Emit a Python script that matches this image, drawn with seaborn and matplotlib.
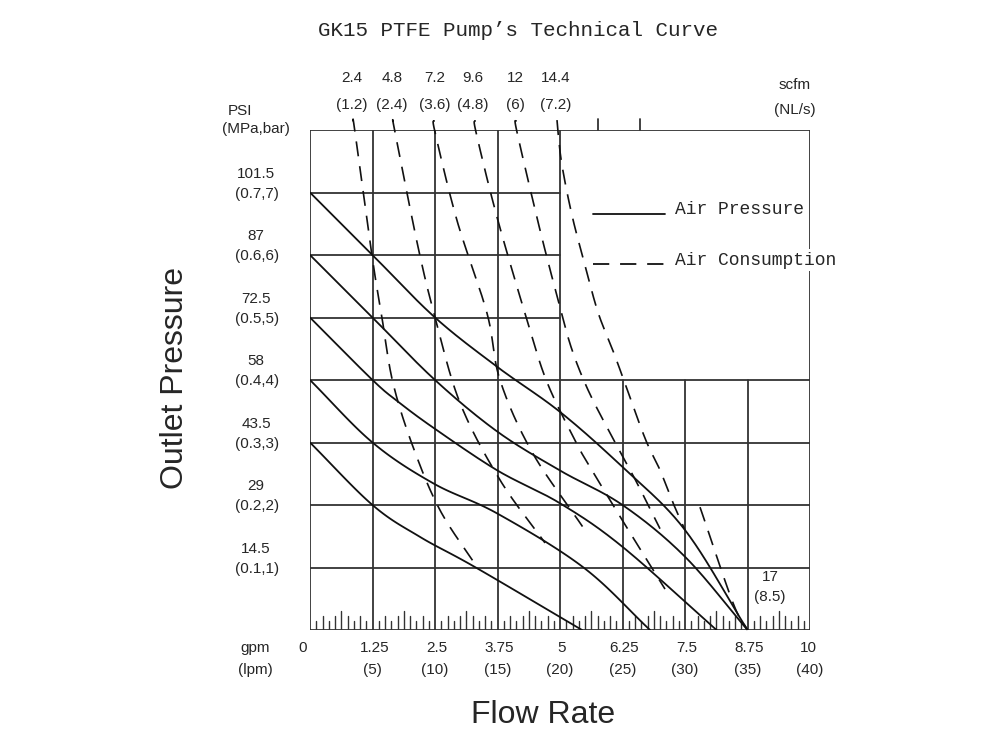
import numpy as np
import pandas as pd
import matplotlib
matplotlib.use("Agg")
import matplotlib.pyplot as plt
import seaborn as sns

# ---------------- data ----------------
# Air-pressure curves (gpm, psi)
c7_gpm = [0, 1.25, 2.5, 3.75, 5.0, 6.25, 7.5, 8.75]
c7_psi = [101.5, 87, 72.5, 61, 50.6, 37.8, 23.2, 0]
c6_gpm = [0, 1.25, 2.5, 3.75, 5.0, 6.25, 7.5, 8.75]
c6_psi = [87, 72.5, 58, 46, 37, 29, 17, 0]
c5_gpm = [0, 1.25, 1.77, 2.47, 3.75, 5.0, 6.25, 8.13]
c5_psi = [72.5, 58, 52.9, 46.9, 37, 29.4, 19.3, 0]
c4_gpm = [0, 1.25, 2.47, 3.75, 5.47, 6.8]
c4_psi = [58, 43.5, 34, 27, 14.5, 0]
c3_gpm = [0, 1.25, 2.2, 3.3, 5.44]
c3_psi = [43.5, 29, 21.6, 14.6, 0]

# Air-consumption curves (gpm, psi)
d1_gpm = [0.86, 0.9, 1.24, 1.44, 1.66, 2.06, 2.6, 3.34]
d1_psi = [118.3, 115.5, 86.8, 72.4, 57.3, 42.5, 27.8, 14.6]
d2_gpm = [1.66, 1.7, 2.16, 2.5, 3.0, 3.8, 4.7]
d2_psi = [118.3, 115.5, 88.9, 72.6, 52.7, 34.8, 20.2]
d3_gpm = [2.48, 2.5, 2.94, 3.54, 3.8, 4.44, 5.45]
d3_psi = [118.3, 115.5, 95, 73.5, 58, 41.3, 24]
d4_gpm = [3.3, 3.32, 3.74, 4.34, 4.74, 5.3, 5.6, 6.34, 7.1]
d4_psi = [118.3, 115.5, 95.8, 71.9, 57.5, 44, 37.8, 23.7, 9.5]
d5_gpm = [4.12, 4.14, 4.6, 5.0, 5.24, 5.56, 6.0, 6.5, 7.0]
d5_psi = [118.3, 115.5, 92.8, 74.9, 65, 55.7, 45.7, 35, 23.5]
d6_gpm = [4.94, 4.96, 5.04, 5.24, 5.5, 5.76, 6.04, 6.26, 6.7, 7.0, 7.26, 7.5]
d6_psi = [118.3, 115.5, 107.8, 96.2, 84.6, 73.7, 65.4, 58.5, 44.5, 37.1, 29.5, 23.2]
d7_gpm = [7.8, 8.46, 8.75]
d7_psi = [28.5, 6.3, 0]

scfm_labels = ["2.4", "4.8", "7.2", "9.6", "12", "14.4"]
nls_labels = ["(1.2)", "(2.4)", "(3.6)", "(4.8)", "(6)", "(7.2)"]
scfm_pos = [0.84, 1.64, 2.5, 3.26, 4.1, 4.92]
psi_ticks = [101.5, 87, 72.5, 58, 43.5, 29, 14.5]
psi_sub = ["(0.7,7)", "(0.6,6)", "(0.5,5)", "(0.4,4)", "(0.3,3)", "(0.2,2)", "(0.1,1)"]
gpm_ticks = [0, 1.25, 2.5, 3.75, 5, 6.25, 7.5, 8.75, 10]
gpm_tick_labels = ["0", "1.25", "2.5", "3.75", "5", "6.25", "7.5", "8.75", "10"]
lpm_tick_labels = ["", "(5)", "(10)", "(15)", "(20)", "(25)", "(30)", "(35)", "(40)"]


def smooth(xs, ys, n=25):
    p = np.column_stack([xs, ys]).astype(float)
    p = np.vstack([2 * p[0] - p[1], p, 2 * p[-1] - p[-2]])
    out = []
    t = np.linspace(0, 1, n)[:, None]
    for i in range(1, len(p) - 2):
        p0, p1, p2, p3 = p[i - 1], p[i], p[i + 1], p[i + 2]
        seg = 0.5 * ((2 * p1) + (-p0 + p2) * t + (2 * p0 - 5 * p1 + 4 * p2 - p3) * t ** 2
                     + (-p0 + 3 * p1 - 3 * p2 + p3) * t ** 3)
        out.append(seg if i == 1 else seg[1:])
    s = np.vstack(out)
    return pd.DataFrame({"gpm": s[:, 0], "psi": s[:, 1], "order": np.arange(len(s))})


sns.set_style("white")
plt.rcParams["font.family"] = ["Liberation Sans", "DejaVu Sans"]

fig = plt.figure(figsize=(10, 7.5), dpi=100)
ax = fig.add_axes([0.31, 0.16, 0.5, 500 / 750])
ax.set_xlim(0, 10)
ax.set_ylim(0, 116)
ax.axis("off")

grid_kw = dict(color="#333333", lw=1.3, zorder=1)
YT = 116
# frame and grid
ax.plot([0, 10], [YT, YT], **grid_kw)
ax.plot([0, 0], [0, YT], **grid_kw)
ax.plot([0, 10], [0, 0], **grid_kw)
ax.plot([10, 10], [0, YT], **grid_kw)
for gx in [1.25, 2.5, 3.75, 5.0]:
    ax.plot([gx, gx], [0, YT], **grid_kw)
for gx in [6.25, 7.5, 8.75]:
    ax.plot([gx, gx], [0, 58], **grid_kw)
for gy in [101.5, 87, 72.5]:
    ax.plot([0, 5], [gy, gy], **grid_kw)
for gy in [58, 43.5, 29, 14.5]:
    ax.plot([0, 10], [gy, gy], **grid_kw)
# top small ticks
for gx in [5.76, 6.6]:
    ax.plot([gx, gx], [YT, YT + 2.6], clip_on=False, **grid_kw)
# bottom minor ticks
for k in range(1, 80):
    if k % 10 == 0:
        continue
    h = 4.4 if k % 10 == 5 else (3.2 if k % 2 == 0 else 2.2)
    ax.plot([k * 0.125, k * 0.125], [0, h], color="#333333", lw=1.0, zorder=1)

for gx, gy in [(c7_gpm, c7_psi), (c6_gpm, c6_psi), (c5_gpm, c5_psi), (c4_gpm, c4_psi), (c3_gpm, c3_psi)]:
    sns.lineplot(data=smooth(gx, gy), x="gpm", y="psi", sort=False, estimator=None,
                 color="#111111", lw=1.3, ax=ax, zorder=3)
for gx, gy in [(d1_gpm, d1_psi), (d2_gpm, d2_psi), (d3_gpm, d3_psi), (d4_gpm, d4_psi),
               (d5_gpm, d5_psi), (d6_gpm, d6_psi), (d7_gpm, d7_psi)]:
    sns.lineplot(data=smooth(gx, gy), x="gpm", y="psi", sort=False, estimator=None,
                 color="#111111", lw=1.2, ax=ax, zorder=3)
for l in ax.lines[-7:]:
    l.set_dashes([9, 6])
    l.set_clip_on(False)
ax.set_xlabel("")
ax.set_ylabel("")
ax.set_xlim(0, 10)
ax.set_ylim(0, 116)

fs = 11
# top labels
for x, a, b in zip(scfm_pos, scfm_labels, nls_labels):
    ax.text(x, 128.0, a, ha="center", va="center", fontsize=fs, clip_on=False)
    ax.text(x, 121.8, b, ha="center", va="center", fontsize=fs, clip_on=False)
ax.text(9.7, 126.4, "scfm", ha="center", va="center", fontsize=fs)
ax.text(9.7, 120.6, "(NL/s)", ha="center", va="center", fontsize=fs)
# left labels
ax.text(-1.64, 120.5, "PSI", ha="left", va="center", fontsize=fs)
ax.text(-1.76, 116.3, "(MPa,bar)", ha="left", va="center", fontsize=fs)
for y, s in zip(psi_ticks, psi_sub):
    ax.text(-1.08, y + 4.3, f"{y:g}", ha="center", va="center", fontsize=fs)
    ax.text(-1.06, y - 0.3, s, ha="center", va="center", fontsize=fs)
# bottom labels
ax.text(-1.1, -4.2, "gpm", ha="center", va="center", fontsize=fs)
ax.text(-1.1, -9.3, "(lpm)", ha="center", va="center", fontsize=fs)
for x, a, b in zip(gpm_ticks, gpm_tick_labels, lpm_tick_labels):
    xo = -0.14 if x == 0 else (0.04 if x < 9 else -0.04)
    ax.text(x + xo, -4.2, a, ha="center", va="center", fontsize=fs)
    if b:
        ax.text(x, -9.3, b, ha="center", va="center", fontsize=fs)
ax.text(9.2, 12.3, "17", ha="center", va="center", fontsize=fs)
ax.text(9.2, 7.6, "(8.5)", ha="center", va="center", fontsize=fs)

# legend
mono = ["Liberation Mono", "DejaVu Sans Mono"]
ax.plot([5.66, 7.1], [96.6, 96.6], color="#111111", lw=1.3)
ax.plot([5.66, 7.1], [84.8, 84.8], color="#111111", lw=1.3, dashes=[9, 6])
ax.text(7.3, 97.5, "Air Pressure", ha="left", va="center", fontsize=13, family=mono,
        bbox=dict(fc="white", ec="none", pad=2))
ax.text(7.3, 85.8, "Air Consumption", ha="left", va="center", fontsize=13, family=mono,
        bbox=dict(fc="white", ec="none", pad=2), clip_on=False)

# titles
fig.text(0.518, 1 - 30 / 750, "GK15 PTFE Pump\u2019s Technical Curve", ha="center", va="center",
         fontsize=15, family=mono)
fig.text(0.175, 1 - 378 / 750, "Outlet Pressure", rotation=90, ha="center", va="center",
         fontsize=23)
fig.text(0.543, 1 - 715 / 750, "Flow Rate", ha="center", va="center", fontsize=23)

fig.savefig("out.png", dpi=100)
